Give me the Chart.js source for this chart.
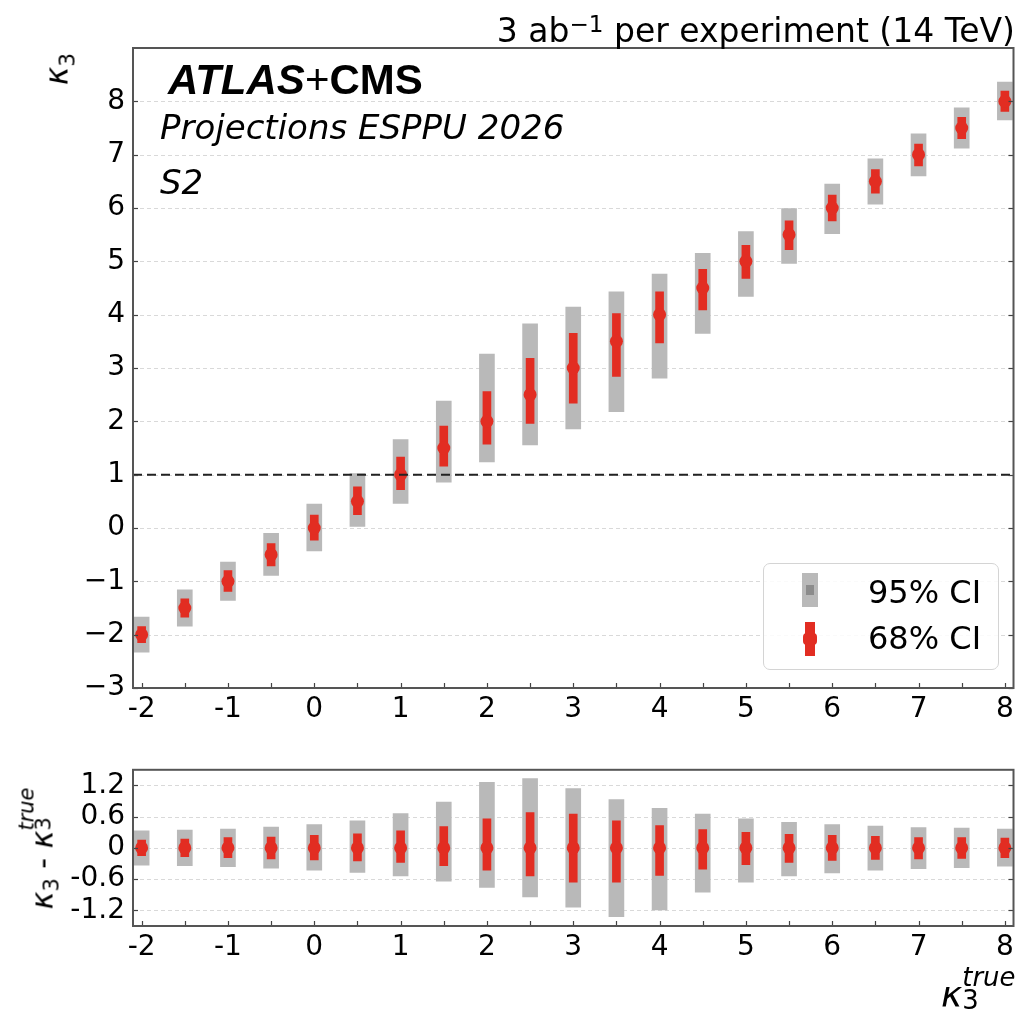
<!DOCTYPE html>
<html><head><meta charset="utf-8">
<script src="https://cdn.jsdelivr.net/npm/chart.js@4.4.0/dist/chart.umd.min.js"></script>
<style>
html,body{margin:0;padding:0;background:#fff;width:1020px;height:1009px;overflow:hidden;font-family:"DejaVu Sans",sans-serif;}
canvas{position:absolute;left:0;}
#c1{top:0;}
#c2{top:745px;}
.t{position:absolute;white-space:nowrap;color:#000;line-height:1;}
.it{font-style:italic;}
.sub{position:relative;top:0.3em;font-size:0.7em;}
.sup{position:relative;top:-0.45em;font-size:0.7em;}
</style></head><body>
<canvas id="c1" width="1020" height="745"></canvas>
<canvas id="c2" width="1020" height="264"></canvas>

<div class="t" style="right:5px;top:14px;font-size:33px;">3 ab<span class="sup">−1</span> per experiment (14 TeV)</div>
<div class="t" style="left:168px;top:59px;font-size:42px;font-family:'Liberation Sans',Arial,sans-serif;"><b><i>ATLAS</i></b>+<b>CMS</b></div>
<div class="t it" style="left:160px;top:110px;font-size:34px;">Projections ESPPU 2026</div>
<div class="t it" style="left:160px;top:165px;font-size:34px;">S2</div>

<div class="t" style="left:57px;top:69px;font-size:31px;transform:translate(-50%,-50%) rotate(-90deg);"><span class="it">κ</span><span class="sub">3</span></div>
<div class="t" style="left:40px;top:848px;font-size:30px;transform:translate(-50%,-50%) rotate(-90deg);"><span class="it">κ</span><span class="sub">3</span> - <span class="it">κ</span><span style="display:inline-block;position:relative;width:44px;height:1em;"><span style="position:absolute;left:0;top:0.5em;font-size:0.7em;">3</span><span class="it" style="position:absolute;left:0;top:-0.3em;font-size:0.7em;">true</span></span></div>
<div class="t" style="left:941px;top:971px;font-size:36px;"><span class="it">κ</span><span style="display:inline-block;position:relative;width:46px;height:1em;"><span style="position:absolute;left:0;top:0.65em;font-size:0.72em;">3</span><span class="it" style="position:absolute;left:0;top:-0.22em;font-size:0.72em;">true</span></span></div>

<div style="position:absolute;left:763px;top:563px;width:234px;height:105px;border:1.5px solid #d4d4d4;border-radius:7px;background:rgba(255,255,255,0.85);"></div>
<div style="position:absolute;left:802px;top:573px;width:16px;height:34px;background:#b9b9b9;"></div>
<div style="position:absolute;left:806px;top:585px;width:8px;height:10px;background:#8c8c8c;"></div>
<div style="position:absolute;left:805px;top:622px;width:10px;height:34px;background:#e22d22;"></div>
<div style="position:absolute;left:803px;top:633px;width:14px;height:12px;background:#e22d22;border-radius:4px;"></div>
<div class="t" style="left:868px;top:576px;font-size:32px;">95% CI</div>
<div class="t" style="left:868px;top:622px;font-size:32px;">68% CI</div>

<script>
// ---------------- data ----------------
const kappaTrue = [-2, -1.5, -1, -0.5, 0, 0.5, 1, 1.5, 2, 2.5, 3, 3.5, 4, 4.5, 5, 5.5, 6, 6.5, 7, 7.5, 8];
const kappaFit  = [-2, -1.5, -1, -0.5, 0, 0.5, 1, 1.5, 2, 2.5, 3, 3.5, 4, 4.5, 5, 5.5, 6, 6.5, 7, 7.5, 8];
const ci95Up    = [0.33, 0.34, 0.36, 0.40, 0.45, 0.52, 0.66, 0.88, 1.26, 1.33, 1.14, 0.93, 0.76, 0.65, 0.56, 0.49, 0.45, 0.42, 0.39, 0.38, 0.36];
const ci95Down  = [0.33, 0.34, 0.36, 0.39, 0.43, 0.47, 0.54, 0.64, 0.76, 0.94, 1.14, 1.32, 1.19, 0.85, 0.66, 0.54, 0.48, 0.43, 0.40, 0.38, 0.35];
const ci68Up    = [0.15, 0.17, 0.20, 0.21, 0.24, 0.27, 0.33, 0.41, 0.56, 0.68, 0.65, 0.52, 0.43, 0.35, 0.30, 0.26, 0.24, 0.22, 0.20, 0.20, 0.19];
const ci68Down  = [0.15, 0.17, 0.19, 0.21, 0.23, 0.25, 0.28, 0.34, 0.43, 0.54, 0.66, 0.66, 0.53, 0.41, 0.32, 0.28, 0.24, 0.22, 0.21, 0.20, 0.19];
const xTickLabels = [-2, -1, 0, 1, 2, 3, 4, 5, 6, 7, 8];
const xTickMarks  = [-2, -1.5, -1, -0.5, 0, 0.5, 1, 1.5, 2, 2.5, 3, 3.5, 4, 4.5, 5, 5.5, 6, 6.5, 7, 7.5, 8];
const yTicksMain  = [-3, -2, -1, 0, 1, 2, 3, 4, 5, 6, 7, 8];
const yTicksRatio = [-1.2, -0.6, 0, 0.6, 1.2];
const refLine     = 1;

const RED = '#e22d22', GREY = '#b9b9b9';
const FONT = {family: 'DejaVu Sans', size: 28};

function framePlugin(yTickVals) {
  return {
    id: 'frame',
    beforeDatasetsDraw(chart) {
      const {ctx, chartArea: a, scales: {x, y}} = chart;
      ctx.save();
      ctx.strokeStyle = '#d9d9d9';
      ctx.lineWidth = 1;
      ctx.setLineDash([4, 3]);
      yTickVals.forEach(v => {
        const py = Math.round(y.getPixelForValue(v)) + 0.5;
        ctx.beginPath(); ctx.moveTo(a.left, py); ctx.lineTo(a.right, py); ctx.stroke();
      });
      ctx.restore();
    },
    afterDraw(chart) {
      const {ctx, chartArea: a, scales: {x, y}} = chart;
      ctx.save();
      ctx.strokeStyle = '#444';
      ctx.lineWidth = 1.2;
      ctx.setLineDash([]);
      const L = 5;
      yTickVals.forEach(v => {
        const py = Math.round(y.getPixelForValue(v)) + 0.5;
        ctx.beginPath(); ctx.moveTo(a.left, py); ctx.lineTo(a.left + L, py); ctx.stroke();
        ctx.beginPath(); ctx.moveTo(a.right, py); ctx.lineTo(a.right - L, py); ctx.stroke();
      });
      xTickMarks.forEach(v => {
        const px = Math.round(x.getPixelForValue(v)) + 0.5;
        ctx.beginPath(); ctx.moveTo(px, a.bottom); ctx.lineTo(px, a.bottom - L); ctx.stroke();
      });
      ctx.strokeStyle = '#555';
      ctx.lineWidth = 2;
      ctx.strokeRect(a.left, a.top, a.right - a.left, a.bottom - a.top);
      ctx.restore();
    }
  };
}

function makeChart(canvasId, centers, yMin, yMax, yTickVals, yFmt, padTop, axisH, withRef) {
  const datasets = [
    {
      type: 'bar', label: '95% CI',
      data: kappaTrue.map((k, i) => ({x: k, y: [centers[i] - ci95Down[i], centers[i] + ci95Up[i]]})),
      backgroundColor: GREY, borderWidth: 0, barThickness: 15, grouped: false, order: 3
    },
    {
      type: 'bar', label: '68% CI',
      data: kappaTrue.map((k, i) => ({x: k, y: [centers[i] - ci68Down[i], centers[i] + ci68Up[i]]})),
      backgroundColor: RED, borderWidth: 0, barThickness: 8, grouped: false, order: 2
    },
    {
      type: 'scatter', label: 'central',
      data: kappaTrue.map((k, i) => ({x: k, y: centers[i]})),
      pointRadius: 6.5, pointBackgroundColor: RED, pointBorderWidth: 0, showLine: false, order: 1
    }
  ];
  if (withRef) {
    datasets.push({
      type: 'line', label: 'ref',
      data: [{x: -2.1, y: refLine}, {x: 8.1, y: refLine}],
      borderColor: '#222', borderWidth: 2, borderDash: [9, 5], pointRadius: 0, order: 0
    });
  }
  return new Chart(document.getElementById(canvasId), {
    type: 'bar',
    data: {datasets},
    options: {
      responsive: false, animation: false,
      layout: {padding: {top: padTop, right: 3, left: 0, bottom: 0}},
      plugins: {legend: {display: false}, tooltip: {enabled: false}},
      scales: {
        x: {
          type: 'linear', min: -2.1, max: 8.1, offset: false,
          grid: {display: false, drawTicks: false}, border: {display: false},
          afterBuildTicks: s => { s.ticks = xTickLabels.map(v => ({value: v})); },
          afterFit: s => { s.height = axisH; },
          ticks: {font: FONT, color: '#000', padding: 5, autoSkip: false, maxRotation: 0, minRotation: 0,
                  callback: v => String(v)}
        },
        y: {
          type: 'linear', min: yMin, max: yMax,
          grid: {display: false, drawTicks: false}, border: {display: false},
          afterBuildTicks: s => { s.ticks = yTickVals.map(v => ({value: v})); },
          afterFit: s => { s.width = 133; },
          ticks: {font: FONT, color: '#000', padding: 8, autoSkip: false, callback: yFmt}
        }
      }
    },
    plugins: [framePlugin(yTickVals)]
  });
}

makeChart('c1', kappaFit, -3, 9, yTicksMain,
  v => (v < 0 ? '\u2212' + Math.abs(v) : String(v)), 48, 745 - 688, true);

const residual = kappaFit.map((f, i) => f - kappaTrue[i]);
makeChart('c2', residual, -1.5, 1.5, yTicksRatio,
  v => (v === 0 ? '0' : v.toFixed(1)), 767 - 745, 264 - (926 - 745), false);
</script>
</body></html>
